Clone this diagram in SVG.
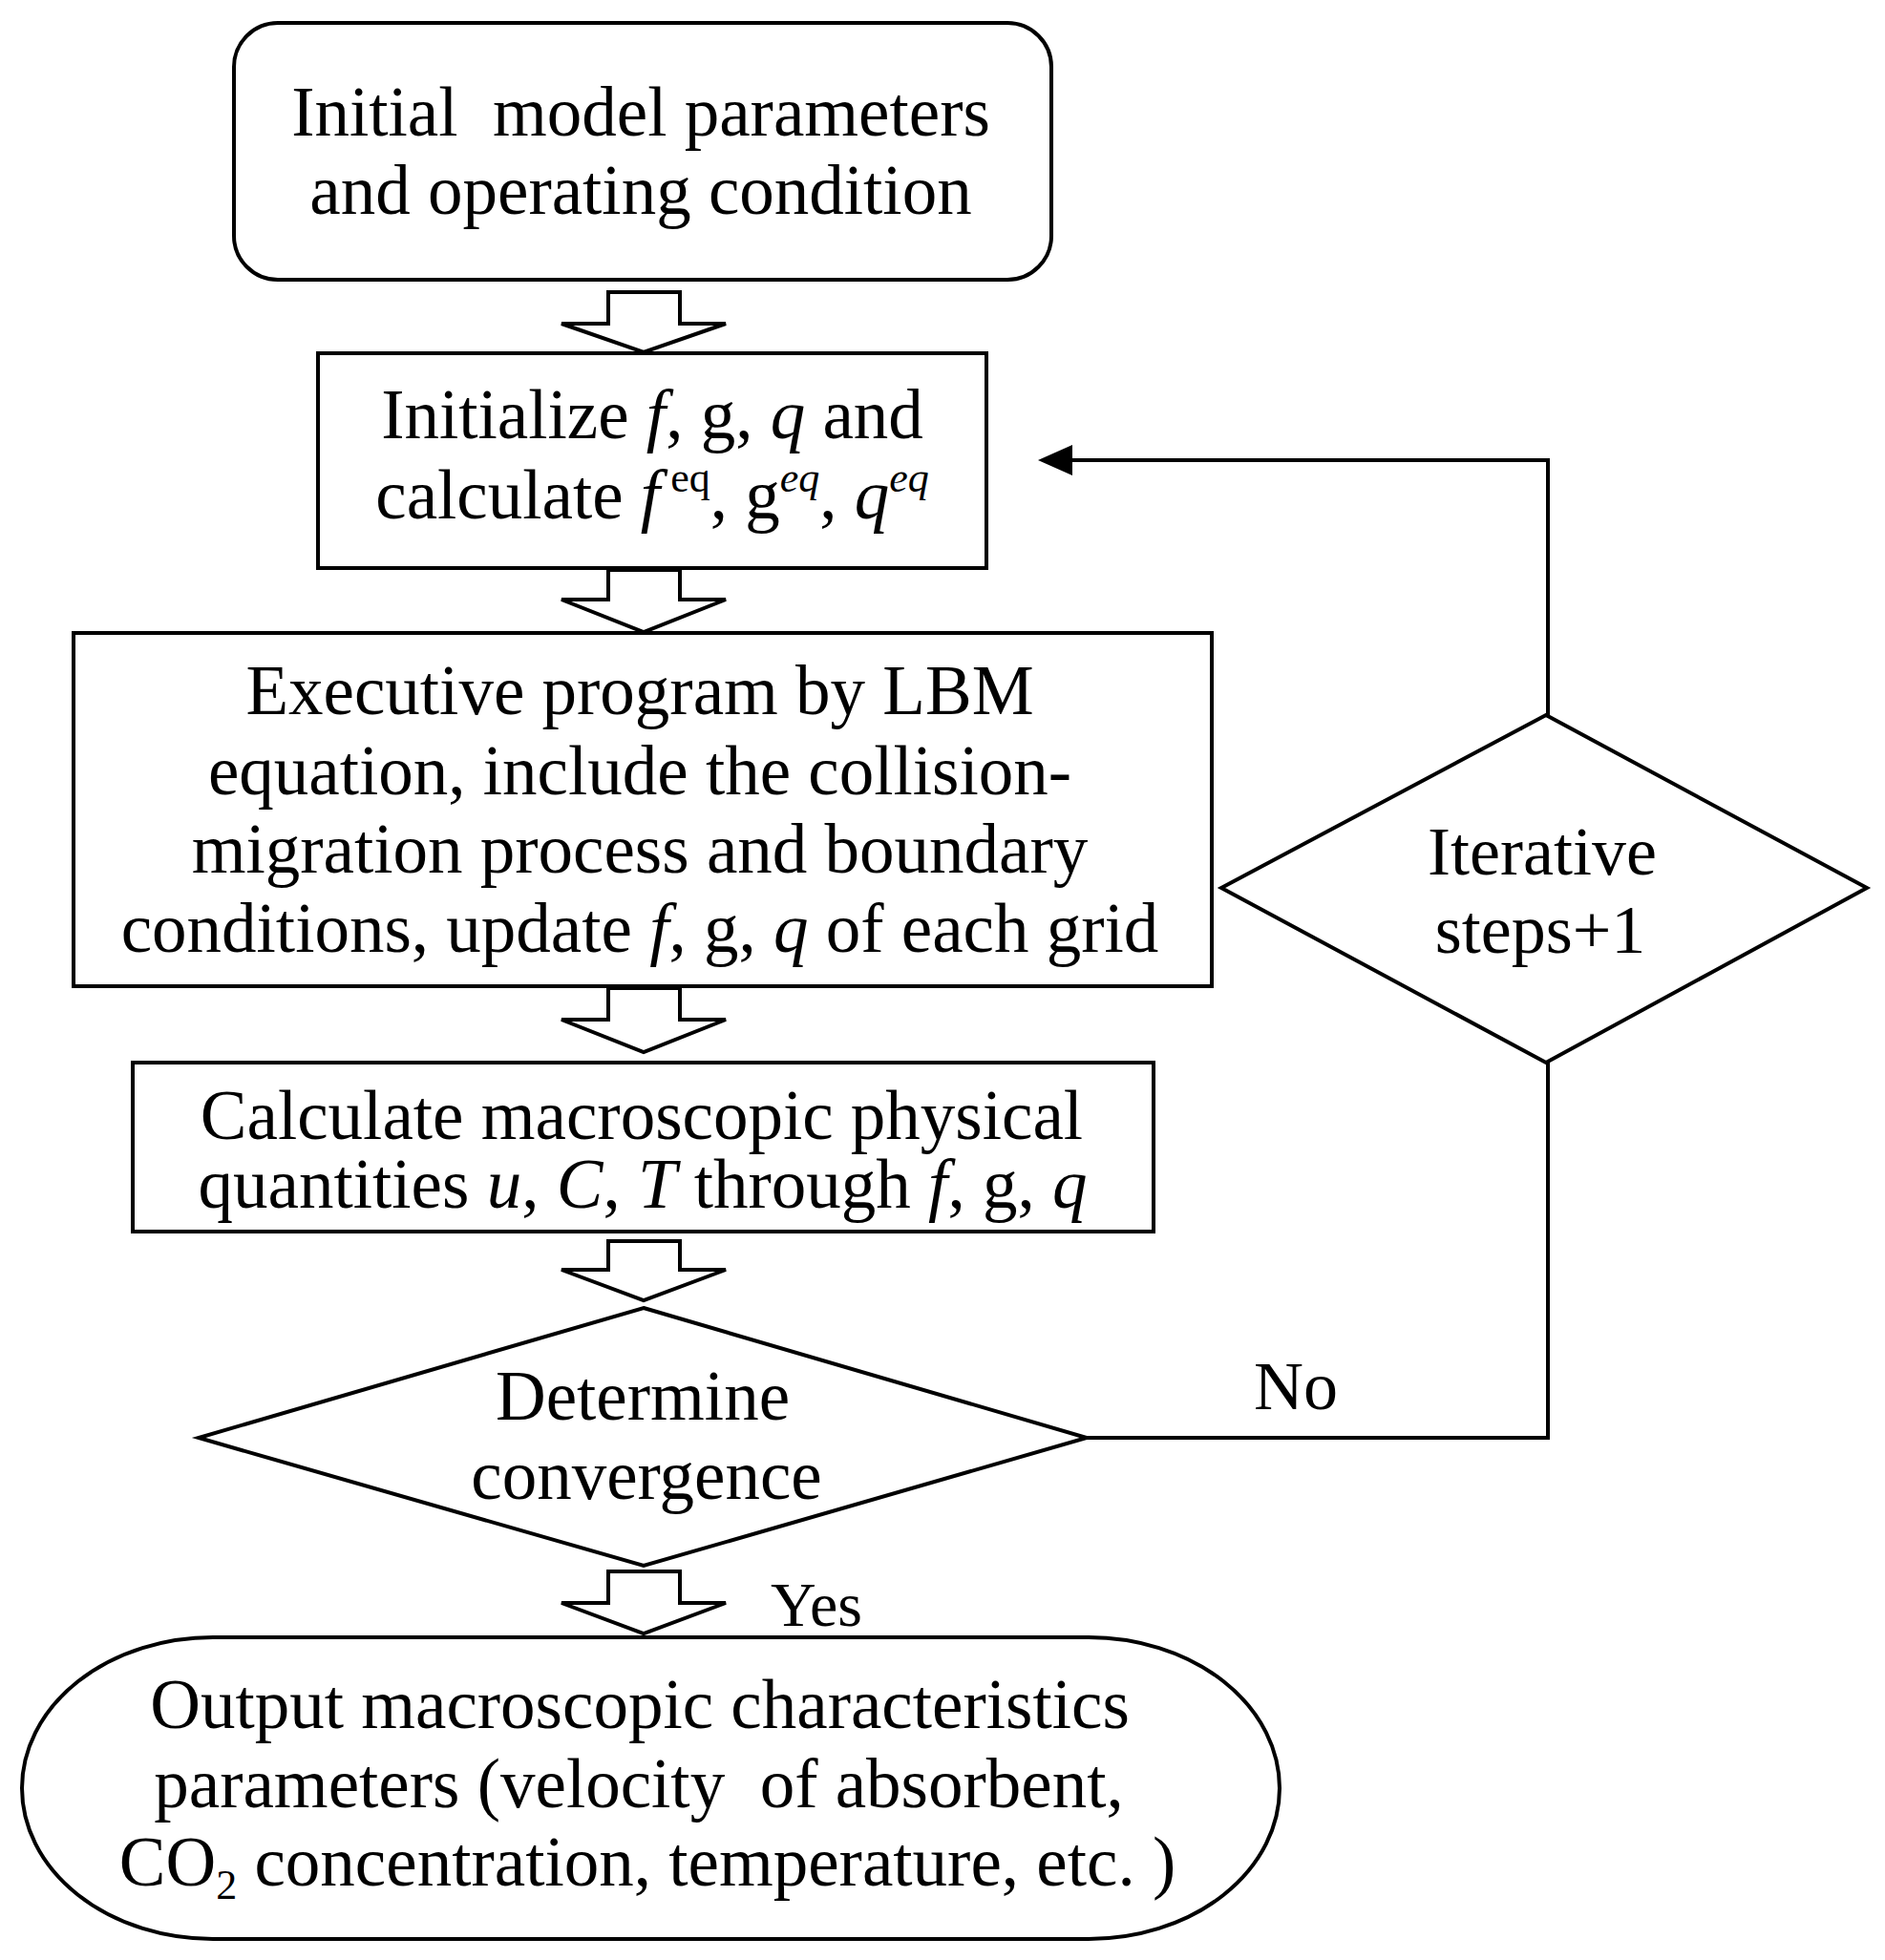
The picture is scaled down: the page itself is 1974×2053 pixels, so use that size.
<svg xmlns="http://www.w3.org/2000/svg" width="1974" height="2053" viewBox="0 0 1974 2053">
<style>
.t{font-family:"Liberation Serif","Times New Roman",serif;font-size:73px;fill:#000;text-anchor:middle}
.i{font-style:italic}
.sup{font-size:44px}
.node{fill:#fff;stroke:#000;stroke-width:4}
.conn{fill:none;stroke:#000;stroke-width:4}
.blk{fill:#fff;stroke:#000;stroke-width:4;stroke-linejoin:miter}
</style>
<rect width="1974" height="2053" fill="#fff"/>
<g id="start">
<rect class="node" x="245" y="24" width="856" height="269" rx="46" ry="46"/>
<text class="t" x="671" y="142" xml:space="preserve">Initial  model parameters</text>
<text class="t" x="671" y="224">and operating condition</text>
</g>
<g id="init">
<rect class="node" x="333" y="370" width="700" height="225"/>
<text class="t" x="683" y="459">Initialize <tspan class="i">f</tspan>, g, <tspan class="i">q</tspan> and</text>
<text class="t" x="683" y="543">calculate <tspan class="i">f</tspan><tspan class="sup" dy="-28"> eq</tspan><tspan dy="28">, g</tspan><tspan class="sup i" dy="-28">eq</tspan><tspan dy="28">, </tspan><tspan class="i">q</tspan><tspan class="sup i" dy="-28">eq</tspan></text>
</g>
<g id="execute">
<rect class="node" x="77" y="663" width="1192" height="370"/>
<text class="t" x="670" y="748">Executive program by LBM</text>
<text class="t" x="670" y="832">equation, include the collision-</text>
<text class="t" x="670" y="914">migration process and boundary</text>
<text class="t" x="670" y="997">conditions, update <tspan class="i">f</tspan>, g, <tspan class="i">q</tspan> of each grid</text>
</g>
<g id="calculate">
<rect class="node" x="139" y="1113" width="1069" height="177"/>
<text class="t" x="672" y="1193">Calculate macroscopic physical</text>
<text class="t" x="673" y="1265">quantities <tspan class="i">u</tspan>, <tspan class="i">C</tspan>, <tspan class="i">T</tspan> through <tspan class="i">f</tspan>, g, <tspan class="i">q</tspan></text>
</g>
<g id="iterate">
<polygon class="node" points="1619,749 1955,930 1619,1113 1279,930"/>
<text class="t" x="1615" y="916" style="font-size:72px">Iterative</text>
<text class="t" x="1613" y="998" style="font-size:72px">steps+1</text>
</g>
<g id="decision">
<polygon class="node" points="674,1370 1138,1506 674,1640 208,1506"/>
<text class="t" x="673" y="1487">Determine</text>
<text class="t" x="677" y="1570">convergence</text>
</g>
<g id="output">
<path class="node" d="M223,1715 H1140 A200,158 0 0 1 1140,2031 H223 A200,158 0 0 1 223,1715 Z"/>
<text class="t" x="670" y="1810">Output macroscopic characteristics</text>
<text class="t" x="669" y="1893" xml:space="preserve">parameters (velocity  of absorbent,</text>
<text class="t" x="678" y="1975">CO<tspan class="sup" dy="14">2</tspan><tspan dy="-14"> concentration, temperature, etc. )</tspan></text>
</g>
<g id="connectors">
<polygon class="blk" points="637,306 712,306 712,339 760,339 674,369 588,339 637,339"/>
<polygon class="blk" points="637,597 712,597 712,628 760,628 674,662 588,628 637,628"/>
<polygon class="blk" points="637,1035 712,1035 712,1068 760,1068 674,1102 588,1068 637,1068"/>
<polygon class="blk" points="637,1300 712,1300 712,1330 760,1330 674,1362 588,1330 637,1330"/>
<polygon class="blk" points="637,1646 712,1646 712,1679 760,1679 674,1711 588,1679 637,1679"/>
<path class="conn" d="M1138,1506 H1621 V1113"/>
<path class="conn" d="M1621,749 V482 H1118"/>
<polygon points="1087,482 1123,466 1123,498" fill="#000"/>
<text class="t" x="1313" y="1476" style="text-anchor:start;font-size:72px">No</text>
<text class="t" x="807" y="1703" style="text-anchor:start;font-size:66px">Yes</text>
</g>
</svg>
